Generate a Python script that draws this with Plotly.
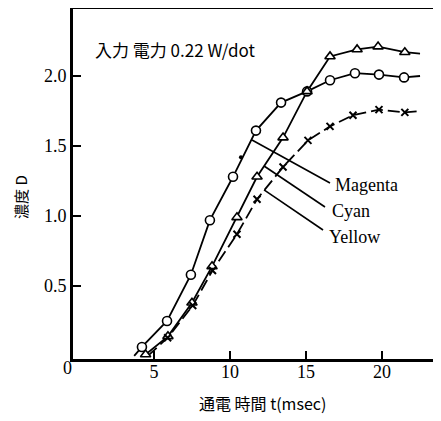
import plotly.graph_objects as go

# ---- data ----
t_magenta = [3.7, 4.21, 5.86, 7.43, 8.68, 10.2, 11.71, 13.36, 15.07, 16.58, 18.22, 19.8, 21.45, 22.5]
d_magenta = [0.0, 0.064, 0.25, 0.58, 0.97, 1.28, 1.61, 1.81, 1.89, 1.97, 2.02, 2.01, 1.99, 2.0]
m_magenta = [False, True, True, True, True, True, True, True, True, True, True, True, True, False]
t_magenta_dot = [10.72]
d_magenta_dot = [1.42]

t_cyan = [4.2, 4.45, 5.92, 7.5, 8.82, 10.46, 11.78, 13.49, 15.07, 16.58, 18.36, 19.74, 21.5, 22.5]
d_cyan = [0.0, 0.01, 0.14, 0.38, 0.64, 0.99, 1.28, 1.56, 1.89, 2.14, 2.19, 2.21, 2.17, 2.16]
m_cyan = [False, True, True, True, True, True, True, True, True, True, True, True, True, False]

t_yellow = [4.6, 5.9, 7.55, 8.85, 10.46, 11.78, 13.49, 15.13, 16.58, 18.09, 19.8, 21.5, 22.5]
d_yellow = [0.0, 0.13, 0.36, 0.61, 0.87, 1.12, 1.35, 1.54, 1.64, 1.72, 1.76, 1.74, 1.75]
m_yellow = [False, True, True, True, True, True, True, True, True, True, True, True, False]

labels = ["Magenta", "Cyan", "Yellow"]
leader_t0 = [11.45, 12.24, 12.24]
leader_d0 = [1.543, 1.357, 1.186]
leader_t1 = [16.58, 16.25, 16.12]
leader_d1 = [1.236, 1.064, 0.90]
label_t = [16.8, 16.55, 16.35]
label_d = [1.22, 1.035, 0.85]

x_ticks = [5, 10, 15, 20]
y_ticks = [0.5, 1.0, 1.5, 2.0]
y_ticktext = ["0.5", "1.0", "1.5", "2.0"]

note_text = "入力 電力 0.22 W/dot"
x_title = "通電 時間 t(msec)"
y_title = "濃度 D"

SERIF = "Liberation Serif"
CJK = "Noto Sans CJK JP"

fig = go.Figure()

def sel(vals, mask):
    return [v for v, m in zip(vals, mask) if m]

fig.add_trace(go.Scatter(x=t_magenta, y=d_magenta, mode="lines",
                         line=dict(color="black", width=1.8), hoverinfo="skip"))
fig.add_trace(go.Scatter(x=t_cyan, y=d_cyan, mode="lines",
                         line=dict(color="black", width=1.8), hoverinfo="skip"))
fig.add_trace(go.Scatter(x=t_yellow, y=d_yellow, mode="lines",
                         line=dict(color="black", width=1.8, dash="12px,5px"), hoverinfo="skip"))

for a0, b0, a1, b1 in zip(leader_t0, leader_d0, leader_t1, leader_d1):
    fig.add_trace(go.Scatter(x=[a0, a1], y=[b0, b1], mode="lines",
                             line=dict(color="black", width=1.6), hoverinfo="skip"))

fig.add_trace(go.Scatter(x=sel(t_magenta, m_magenta), y=sel(d_magenta, m_magenta), mode="markers",
                         marker=dict(symbol="circle", size=9, color="white",
                                     line=dict(color="black", width=1.6))))
fig.add_trace(go.Scatter(x=t_magenta_dot, y=d_magenta_dot, mode="markers",
                         marker=dict(symbol="circle", size=4, color="black")))
fig.add_trace(go.Scatter(x=sel(t_cyan, m_cyan), y=sel(d_cyan, m_cyan), mode="markers",
                         marker=dict(symbol="triangle-up", size=9, color="white",
                                     line=dict(color="black", width=1.6))))
fig.add_trace(go.Scatter(x=sel(t_yellow, m_yellow), y=sel(d_yellow, m_yellow), mode="markers",
                         marker=dict(symbol="x-thin", size=7,
                                     line=dict(color="black", width=2))))

annotations = []
for lab, lt, ld in zip(labels, label_t, label_d):
    annotations.append(dict(x=lt, y=ld, xref="x", yref="y", text=lab, showarrow=False,
                            xanchor="left", yanchor="middle",
                            font=dict(family=SERIF, size=18, color="black")))
annotations.append(dict(x=1.0, y=2.19, xref="x", yref="y", text=note_text, showarrow=False,
                        xanchor="left", yanchor="middle",
                        font=dict(family=CJK, size=17, color="black")))
annotations.append(dict(x=0.522, y=-0.122, xref="paper", yref="paper",
                        text=x_title, showarrow=False, xanchor="center", yanchor="middle",
                        font=dict(family=CJK, size=16, color="black")))
annotations.append(dict(x=-0.143, y=0.463, xref="paper", yref="paper",
                        text=y_title, showarrow=False, textangle=-90,
                        xanchor="center", yanchor="middle",
                        font=dict(family=CJK, size=15, color="black")))
annotations.append(dict(x=-0.0137, y=-0.0227, xref="paper", yref="paper", text="0",
                        showarrow=False, xanchor="center", yanchor="middle",
                        font=dict(family=SERIF, size=18, color="black")))

fig.update_layout(
    width=441, height=421,
    margin=dict(l=64, r=13, t=0, b=69),
    paper_bgcolor="white", plot_bgcolor="white",
    showlegend=False,
    annotations=annotations,
    shapes=[dict(type="rect", xref="paper", yref="paper", x0=0, y0=0, x1=1, y1=1,
                 line=dict(color="black", width=2), layer="above")],
    xaxis=dict(range=[-0.39, 23.55], tickvals=x_ticks, ticks="inside", ticklen=9, tickwidth=1.6,
               tickcolor="black", showline=True, linewidth=2, linecolor="black", mirror=False,
               showgrid=False, zeroline=False, ticklabelstandoff=-6,
               tickfont=dict(family=SERIF, size=18, color="black")),
    yaxis=dict(range=[-0.029, 2.486], tickvals=y_ticks, ticktext=y_ticktext, ticks="inside",
               ticklen=9, tickwidth=1.6, tickcolor="black", showline=True, linewidth=2,
               linecolor="black", mirror=False, showgrid=False, zeroline=False,
               tickfont=dict(family=SERIF, size=18, color="black")),
)

fig.write_html("out.html")
